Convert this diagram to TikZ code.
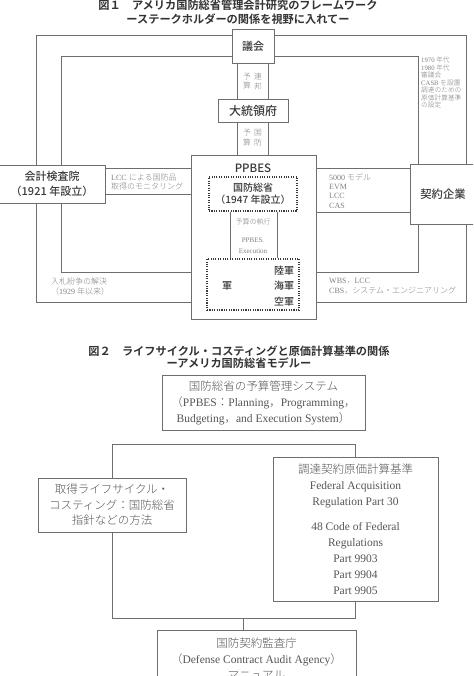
\documentclass[tikz,border=0pt]{standalone}
\usepackage{fontspec}
\setmainfont{Liberation Serif}
\newfontfamily\jp{Noto Sans CJK JP}
\IfFontExistsTF{Noto Sans CJK JP Bold}{\newfontfamily\jpb{Noto Sans CJK JP Bold}}{\newfontfamily\jpb{Noto Sans CJK JP}}
\IfFontExistsTF{Noto Sans CJK JP Medium}{\newfontfamily\jpm{Noto Sans CJK JP Medium}}{\newfontfamily\jpm{Noto Sans CJK JP}}
\IfFontExistsTF{Noto Sans CJK JP Light}{\newfontfamily\jpl{Noto Sans CJK JP Light}}{\newfontfamily\jpl{Noto Sans CJK JP}}
\newcommand\JP[1]{{\jpl #1}}
\definecolor{ln}{HTML}{6E6E6E}
\definecolor{bx}{HTML}{3A3A3A}
\definecolor{sg}{HTML}{808080}
\definecolor{ft}{HTML}{555555}
\definecolor{ttl}{HTML}{333333}
\begin{document}
\begin{tikzpicture}[x=1pt,y=-1pt,
  box/.style={draw=ln, line width=0.8pt, fill=white, inner sep=0pt, text=bx, align=center},
  boxb/.style={draw=ln, line width=0.8pt, fill=white, inner sep=0pt, text=ft, align=center,
    font=\fontsize{11.5}{16}\selectfont},
  pipe/.style={draw=ln, line width=0.8pt},
  dotbox/.style={draw=bx, line width=1.4pt, dash pattern=on 1.1pt off 1.3pt, inner sep=0pt, text=bx, align=center},
  sm/.style={text=sg, inner sep=0pt, align=left},
  lbl/.style={inner sep=0pt, text=bx, align=center},
  ttlst/.style={inner sep=0pt, text=ttl, align=center}]
\useasboundingbox (0,0) rectangle (473,676);
\clip (0,0) rectangle (473,676);

% ---------- Figure 1 title ----------
\node[ttlst, font=\jpb\fontsize{11.2}{13.5}\selectfont] (t1) at (238,12.2)
  {図１　アメリカ国防総省管理会計研究のフレームワーク\\ーステークホルダーの関係を視野に入れてー};

% ---------- Figure 1 boxes ----------
\node[box, minimum width=42pt, minimum height=34pt, font=\jpm\fontsize{11}{13}\selectfont] (gikai) at (253,46) {議会};
\node[box, minimum width=70pt, minimum height=23pt, font=\jpm\fontsize{12}{14}\selectfont] (daito) at (253,110.5) {大統領府};
\node[box, minimum width=125pt, minimum height=164pt] (ppbes) at (253.5,237) {};
\node[lbl, font=\jpm\fontsize{11.5}{13}\selectfont] (ppbest) at (253,168) {PPBES};
\node[dotbox, minimum width=88pt, minimum height=34pt, font=\jpm\fontsize{10}{12.5}\selectfont] (kokubo) at (253,194) {国防総省\\（1947 年設立）};
\node[dotbox, minimum width=92pt, minimum height=51pt] (gun) at (253,284.5) {};
\node[lbl, font=\jpm\fontsize{10}{12}\selectfont] (gunt) at (227,286) {軍};
\node[lbl, font=\jpm\fontsize{10}{15.5}\selectfont] (gunl) at (284,286) {陸軍\\海軍\\空軍};
\node[box, minimum width=106pt, minimum height=38pt, font=\jpm\fontsize{11}{15}\selectfont] (kaikei) at (52,184) {会計検査院\\（1921 年設立）};
\node[box, minimum width=66pt, minimum height=60pt, font=\jpm\fontsize{11.3}{13}\selectfont] (keiyaku) at (443,194) {契約企業};

% ---------- Figure 1 pipes ----------
\coordinate (oTL) at (36,35);  \coordinate (iTL) at (61,56);
\coordinate (oTR) at (466,35); \coordinate (iTR) at (418,56);
\coordinate (oBL) at (36,302); \coordinate (iBL) at (61,272);
\coordinate (oBR) at (466,302);\coordinate (iBR) at (418,272);
\draw[pipe] (kaikei.north -| oTL) |- (gikai.west |- oTL);
\draw[pipe] (kaikei.north -| iTL) |- (gikai.west |- iTL);
\draw[pipe] (gikai.east |- oTR) -| (keiyaku.north -| oTR);
\draw[pipe] (gikai.east |- iTR) -| (keiyaku.north -| iTR);
\draw[pipe] (kaikei.south -| oBL) |- (ppbes.west |- oBL);
\draw[pipe] (kaikei.south -| iBL) |- (ppbes.west |- iBL);
\draw[pipe] (ppbes.east |- oBR) -| (keiyaku.south -| oBR);
\draw[pipe] (ppbes.east |- iBR) -| (keiyaku.south -| iBR);
\coordinate (sA) at (0,168); \coordinate (sB) at (0,194); \coordinate (sC) at (0,212);
\draw[pipe] (kaikei.east |- sA) -- (ppbes.west |- sA);
\draw[pipe] (kaikei.east |- sB) -- (ppbes.west |- sB);
\draw[pipe] (ppbes.east |- sA) -- (keiyaku.west |- sA);
\draw[pipe] (ppbes.east |- sC) -- (keiyaku.west |- sC);
\coordinate (pL) at (237,0); \coordinate (pR) at (268,0);
\coordinate (qL) at (230,0); \coordinate (qR) at (277,0);
\draw[pipe] (gikai.south -| pL) -- (daito.north -| pL);
\draw[pipe] (gikai.south -| pR) -- (daito.north -| pR);
\draw[pipe] (daito.south -| pL) -- (ppbes.north -| pL);
\draw[pipe] (daito.south -| pR) -- (ppbes.north -| pR);
\draw[pipe] (kokubo.south -| qL) -- (gun.north -| qL);
\draw[pipe] (kokubo.south -| qR) -- (gun.north -| qR);

% ---------- Figure 1 small labels ----------
\node[sm, font=\jpl\fontsize{7.8}{9.2}\selectfont] (v1a) at (247,81.5) {予\\算};
\node[sm, font=\jpl\fontsize{7.8}{9.2}\selectfont] (v1b) at (258,81.5) {連\\邦};
\node[sm, font=\jpl\fontsize{7.8}{10}\selectfont] (v2a) at (247,137.5) {予\\算};
\node[sm, font=\jpl\fontsize{7.8}{10}\selectfont] (v2b) at (258,137.5) {国\\防};
\node[sm, anchor=west, font=\fontsize{8}{9}\selectfont] (lccl) at (111,181.5) {LCC \JP{による国防品}\\\JP{取得のモニタリング}};
\node[sm, anchor=west, font=\fontsize{8}{9.3}\selectfont] (mdl) at (329,191) {5000 \JP{モデル}\\EVM\\LCC\\CAS};
\node[sm, anchor=west, font=\fontsize{8}{10}\selectfont] (nyu) at (51,287) {\JP{入札紛争の解決}\\\JP{（}1929 \JP{年以来）}};
\node[sm, anchor=west, font=\fontsize{8}{10}\selectfont] (wbs) at (329,286) {WBS\JP{，}LCC\\CBS\JP{，システム・エンジニアリング}};
\node[sm, align=center, font=\fontsize{7}{9}\selectfont] (yos) at (253,222) {\JP{予算の執行}};
\node[sm, align=center, font=\fontsize{7}{11}\selectfont] (exe) at (253,245.5) {PPBES.\\Execution};
\node[sm, anchor=west, font=\fontsize{6.7}{7.5}\selectfont] (casb) at (421,82.5)
  {1970 \JP{年代}\\1980 \JP{年代}\\\JP{審議会}\\CASB \JP{を設置}\\\JP{調達のための}\\\JP{原価計算基準}\\\JP{の設定}};

% ---------- Figure 2 title ----------
\node[ttlst, font=\jpb\fontsize{11.2}{11.8}\selectfont] (t2) at (239,357.5)
  {図２　ライフサイクル・コスティングと原価計算基準の関係\\ーアメリカ国防総省モデルー};

% ---------- Figure 2 boxes ----------
\node[boxb, minimum width=203pt, minimum height=55pt] (A) at (263.5,402.5)
  {\JP{国防総省の予算管理システム}\\\JP{（}PPBES\JP{：}Planning\JP{，}Programming\JP{，}\\Budgeting\JP{，}and Execution System\JP{）}};
\node[boxb, minimum width=148pt, minimum height=54pt, font=\fontsize{11.5}{15.5}\selectfont] (B) at (112,505)
  {\JP{取得ライフサイクル・}\\\JP{コスティング：国防総省}\\\JP{指針などの方法}};
\node[boxb, minimum width=165pt, minimum height=144pt] (C) at (355.5,529)
  {\JP{調達契約原価計算基準}\\Federal Acquisition\\Regulation Part 30\\[9pt]48 Code of Federal\\Regulations\\Part 9903\\Part 9904\\Part 9905};
\node[boxb, minimum width=199pt, minimum height=80pt] (D) at (256.5,670) {};
\node[inner sep=0pt, text=ft, align=center, font=\fontsize{11.5}{16}\selectfont] (Dt) at (256.5,659)
  {\JP{国防契約監査庁}\\\JP{（}Defense Contract Audit Agency\JP{）}\\\JP{マニュアル}};

% ---------- Figure 2 connectors ----------
\coordinate (top2) at (0,444);
\coordinate (bot2) at (0,618);
\coordinate (jn) at (243,618);
\draw[pipe] (B.north) |- (C.north |- top2) -- (C.north);
\draw[pipe] (B.south) |- (C.south |- bot2) -- (C.south);
\draw[pipe] (jn) -- (D.north -| jn);
\end{tikzpicture}
\end{document}
